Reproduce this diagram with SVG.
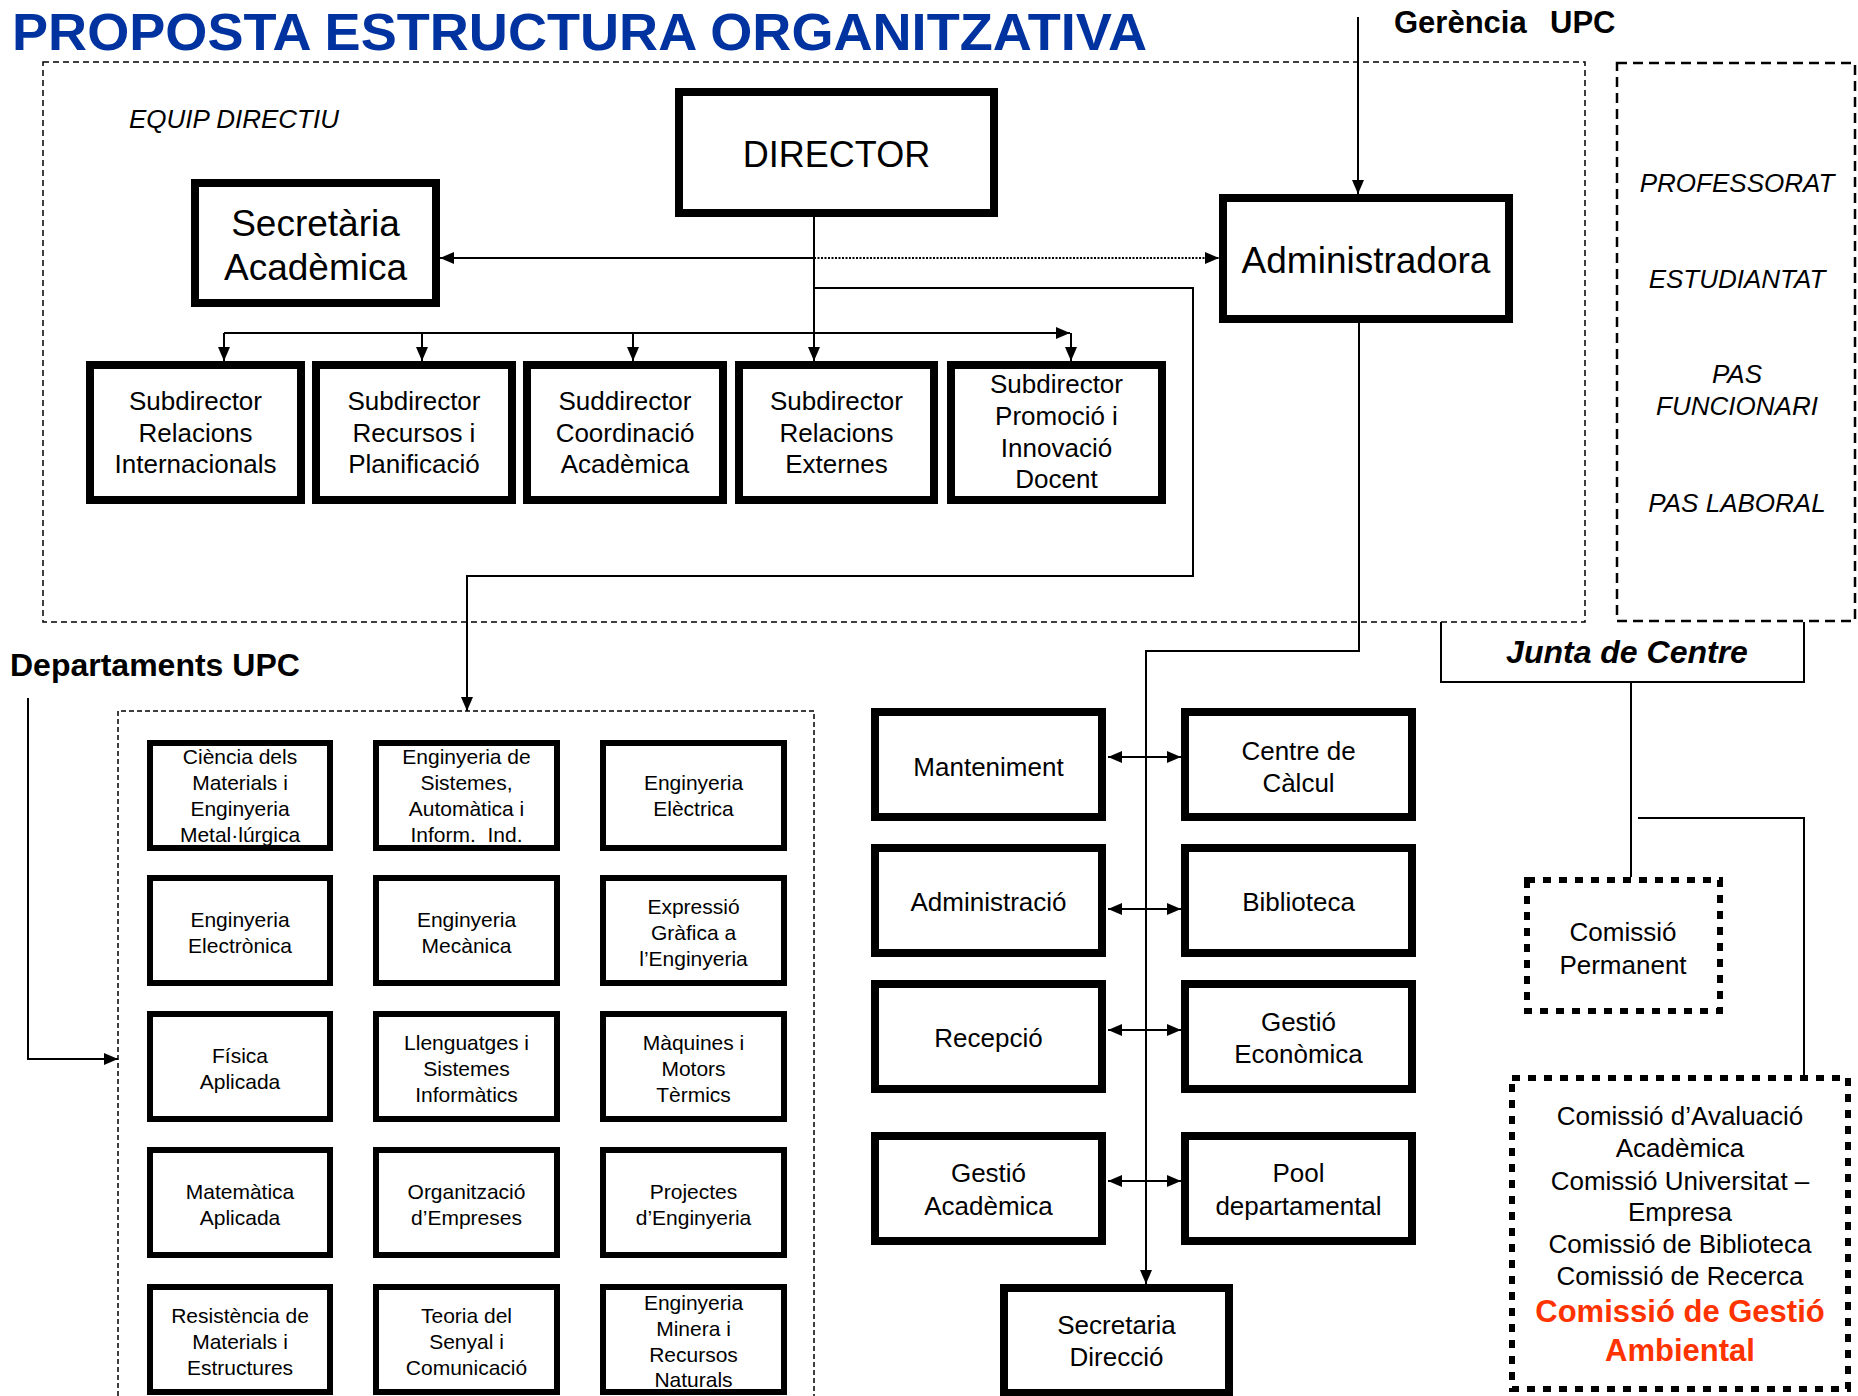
<svg xmlns="http://www.w3.org/2000/svg" width="1858" height="1396" viewBox="0 0 1858 1396">
<defs>
<style>
text{font-family:"Liberation Sans",Arial,sans-serif;fill:#000}
.c{text-anchor:middle}
.b8{fill:#fff;stroke:#000;stroke-width:8}
.b6{fill:#fff;stroke:#000;stroke-width:6}
.dot{fill:#fff;stroke:#000;stroke-width:6;stroke-dasharray:8 8}
.ln{fill:none;stroke:#000;stroke-width:2}
.f26{font-size:26px}
.f21{font-size:21px}
.it{font-style:italic}
.bd{font-weight:bold}
</style>
<marker id="ah" markerUnits="userSpaceOnUse" markerWidth="14" markerHeight="12" refX="14" refY="6" orient="auto-start-reverse">
<path d="M0,0 L14,6 L0,12 z" fill="#000"/>
</marker>
</defs>
<rect width="1858" height="1396" fill="#fff"/>

<text x="12" y="50" font-size="52" font-weight="bold" fill="#0033A0" style="fill:#0033A0" textLength="1135" lengthAdjust="spacingAndGlyphs">PROPOSTA ESTRUCTURA ORGANITZATIVA</text>
<text x="1394" y="33" font-size="31" class="bd">Gerència</text>
<text x="1550" y="33" font-size="31" class="bd">UPC</text>

<!-- containers -->
<g id="equip-directiu">
<rect x="43" y="62" width="1542" height="560" fill="none" stroke="#000" stroke-width="1.5" stroke-dasharray="6 4"/>
<text x="129" y="128" class="f26 it">EQUIP DIRECTIU</text>
</g>
<g id="col-estaments">
<rect x="1617" y="63" width="238" height="558" fill="none" stroke="#000" stroke-width="2.5" stroke-dasharray="10 6"/>
<text x="1737" y="192" class="c f26 it">PROFESSORAT</text>
<text x="1737" y="288" class="c f26 it">ESTUDIANTAT</text>
<text x="1737" y="383" class="c f26 it">PAS</text>
<text x="1737" y="415" class="c f26 it">FUNCIONARI</text>
<text x="1737" y="512" class="c f26 it">PAS LABORAL</text>
</g>
<g id="departaments">
<polyline points="118,1396 118,711 814,711 814,1396" fill="none" stroke="#000" stroke-width="1.5" stroke-dasharray="5 3"/>
<text x="10" y="676" font-size="32" class="bd">Departaments UPC</text>
</g>

<!-- connectors -->
<g id="connectors">
<line class="ln" x1="1358" y1="17" x2="1358" y2="194" marker-end="url(#ah)"/>
<line class="ln" x1="814" y1="217" x2="814" y2="361" marker-end="url(#ah)"/>
<line class="ln" x1="814" y1="258" x2="440" y2="258" marker-end="url(#ah)"/>
<line x1="814" y1="258" x2="1219" y2="258" fill="none" stroke="#000" stroke-width="2" stroke-dasharray="2 1.5" marker-end="url(#ah)"/>
<polyline class="ln" points="814,288 1193,288 1193,576 467,576 467,711" marker-end="url(#ah)"/>
<line class="ln" x1="224" y1="333" x2="1070" y2="333" marker-end="url(#ah)"/>
<line class="ln" x1="224" y1="333" x2="224" y2="361" marker-end="url(#ah)"/>
<line class="ln" x1="422" y1="333" x2="422" y2="361" marker-end="url(#ah)"/>
<line class="ln" x1="633" y1="333" x2="633" y2="361" marker-end="url(#ah)"/>
<line class="ln" x1="1071" y1="333" x2="1071" y2="361" marker-end="url(#ah)"/>
<polyline class="ln" points="1359,323 1359,651 1146,651 1146,1284" marker-end="url(#ah)"/>
<line class="ln" x1="1108" y1="757" x2="1181" y2="757" marker-start="url(#ah)" marker-end="url(#ah)"/>
<line class="ln" x1="1108" y1="909" x2="1181" y2="909" marker-start="url(#ah)" marker-end="url(#ah)"/>
<line class="ln" x1="1108" y1="1030" x2="1181" y2="1030" marker-start="url(#ah)" marker-end="url(#ah)"/>
<line class="ln" x1="1108" y1="1181" x2="1181" y2="1181" marker-start="url(#ah)" marker-end="url(#ah)"/>
<polyline class="ln" points="28,698 28,1059 118,1059" marker-end="url(#ah)"/>
<line class="ln" x1="1631" y1="682" x2="1631" y2="877"/>
<polyline class="ln" points="1638,818 1804,818 1804,1075"/>
</g>

<!-- nodes -->
<g id="director"><rect class="b8" x="679" y="92" width="315" height="121"/><text x="836.5" y="167" class="c" font-size="36">DIRECTOR</text></g>
<g id="secretaria-academica"><rect class="b8" x="195" y="183" width="241" height="120"/><text x="315.5" y="236" class="c" font-size="37">Secretària</text><text x="315.5" y="280" class="c" font-size="37">Acadèmica</text></g>
<g id="administradora"><rect class="b8" x="1223" y="198" width="286" height="121"/><text x="1366" y="273" class="c" font-size="37">Administradora</text></g>

<g id="sub-rel-int"><rect class="b8" x="90" y="365" width="211" height="135"/><text class="c f26" x="195.5" y="410">Subdirector</text><text class="c f26" x="195.5" y="442">Relacions</text><text class="c f26" x="195.5" y="473">Internacionals</text></g>
<g id="sub-recursos"><rect class="b8" x="316" y="365" width="196" height="135"/><text class="c f26" x="414" y="410">Subdirector</text><text class="c f26" x="414" y="442">Recursos i</text><text class="c f26" x="414" y="473">Planificació</text></g>
<g id="sub-coordinacio"><rect class="b8" x="527" y="365" width="196" height="135"/><text class="c f26" x="625" y="410">Suddirector</text><text class="c f26" x="625" y="442">Coordinació</text><text class="c f26" x="625" y="473">Acadèmica</text></g>
<g id="sub-rel-ext"><rect class="b8" x="739" y="365" width="195" height="135"/><text class="c f26" x="836.5" y="410">Subdirector</text><text class="c f26" x="836.5" y="442">Relacions</text><text class="c f26" x="836.5" y="473">Externes</text></g>
<g id="sub-promocio"><rect class="b8" x="951" y="365" width="211" height="135"/><text class="c f26" x="1056.5" y="393">Subdirector</text><text class="c f26" x="1056.5" y="425">Promoció i</text><text class="c f26" x="1056.5" y="457">Innovació</text><text class="c f26" x="1056.5" y="488">Docent</text></g>

<g id="junta-centre"><polyline class="ln" points="1441,622 1441,682 1804,682 1804,622"/><text x="1627" y="663" class="c bd it" font-size="32">Junta de Centre</text></g>
<g id="comissio-permanent"><rect class="dot" x="1527" y="880" width="193" height="131"/><text class="c f26" x="1623" y="941">Comissió</text><text class="c f26" x="1623" y="974">Permanent</text></g>
<g id="comissions"><rect class="dot" x="1512" y="1078" width="336" height="311"/>
<text class="c f26" x="1680" y="1125">Comissió d’Avaluació</text>
<text class="c f26" x="1680" y="1157">Acadèmica</text>
<text class="c f26" x="1680" y="1190">Comissió Universitat –</text>
<text class="c f26" x="1680" y="1221">Empresa</text>
<text class="c f26" x="1680" y="1253">Comissió de Biblioteca</text>
<text class="c f26" x="1680" y="1285">Comissió de Recerca</text>
<text class="c bd" x="1680" y="1322" font-size="31" style="fill:#FF3300">Comissió de Gestió</text>
<text class="c bd" x="1680" y="1361" font-size="31" style="fill:#FF3300">Ambiental</text>
</g>

<g id="manteniment"><rect class="b8" x="875" y="712" width="227" height="105"/><text class="c f26" x="988.5" y="776">Manteniment</text></g>
<g id="centre-calcul"><rect class="b8" x="1185" y="712" width="227" height="105"/><text class="c f26" x="1298.5" y="760">Centre de</text><text class="c f26" x="1298.5" y="792">Càlcul</text></g>
<g id="administracio"><rect class="b8" x="875" y="848" width="227" height="105"/><text class="c f26" x="988.5" y="911">Administració</text></g>
<g id="biblioteca"><rect class="b8" x="1185" y="848" width="227" height="105"/><text class="c f26" x="1298.5" y="911">Biblioteca</text></g>
<g id="recepcio"><rect class="b8" x="875" y="984" width="227" height="105"/><text class="c f26" x="988.5" y="1047">Recepció</text></g>
<g id="gestio-economica"><rect class="b8" x="1185" y="984" width="227" height="105"/><text class="c f26" x="1298.5" y="1031">Gestió</text><text class="c f26" x="1298.5" y="1063">Econòmica</text></g>
<g id="gestio-academica"><rect class="b8" x="875" y="1136" width="227" height="105"/><text class="c f26" x="988.5" y="1182">Gestió</text><text class="c f26" x="988.5" y="1215">Acadèmica</text></g>
<g id="pool"><rect class="b8" x="1185" y="1136" width="227" height="105"/><text class="c f26" x="1298.5" y="1182">Pool</text><text class="c f26" x="1298.5" y="1215">departamental</text></g>
<g id="secretaria-direccio"><rect class="b8" x="1004" y="1288" width="225" height="105"/><text class="c f26" x="1116.5" y="1334">Secretaria</text><text class="c f26" x="1116.5" y="1366">Direcció</text></g>

<!-- departaments boxes -->
<g id="d-ciencia-materials"><rect class="b6" x="150" y="743" width="180" height="105"/><text class="c f21" x="240" y="764">Ciència dels</text><text class="c f21" x="240" y="790">Materials i</text><text class="c f21" x="240" y="816">Enginyeria</text><text class="c f21" x="240" y="842">Metal·lúrgica</text></g>
<g id="d-esaii"><rect class="b6" x="376" y="743" width="181" height="105"/><text class="c f21" x="466.5" y="764">Enginyeria de</text><text class="c f21" x="466.5" y="790">Sistemes,</text><text class="c f21" x="466.5" y="816">Automàtica i</text><text class="c f21" x="466.5" y="842" style="white-space:pre">Inform.  Ind.</text></g>
<g id="d-electrica"><rect class="b6" x="603" y="743" width="181" height="105"/><text class="c f21" x="693.5" y="790">Enginyeria</text><text class="c f21" x="693.5" y="816">Elèctrica</text></g>

<g id="d-electronica"><rect class="b6" x="150" y="878" width="180" height="105"/><text class="c f21" x="240" y="927">Enginyeria</text><text class="c f21" x="240" y="953">Electrònica</text></g>
<g id="d-mecanica"><rect class="b6" x="376" y="878" width="181" height="105"/><text class="c f21" x="466.5" y="927">Enginyeria</text><text class="c f21" x="466.5" y="953">Mecànica</text></g>
<g id="d-expressio"><rect class="b6" x="603" y="878" width="181" height="105"/><text class="c f21" x="693.5" y="914">Expressió</text><text class="c f21" x="693.5" y="940">Gràfica a</text><text class="c f21" x="693.5" y="966">l’Enginyeria</text></g>

<g id="d-fisica"><rect class="b6" x="150" y="1014" width="180" height="105"/><text class="c f21" x="240" y="1063">Física</text><text class="c f21" x="240" y="1089">Aplicada</text></g>
<g id="d-lsi"><rect class="b6" x="376" y="1014" width="181" height="105"/><text class="c f21" x="466.5" y="1050">Llenguatges i</text><text class="c f21" x="466.5" y="1076">Sistemes</text><text class="c f21" x="466.5" y="1102">Informàtics</text></g>
<g id="d-maquines"><rect class="b6" x="603" y="1014" width="181" height="105"/><text class="c f21" x="693.5" y="1050">Màquines i</text><text class="c f21" x="693.5" y="1076">Motors</text><text class="c f21" x="693.5" y="1102">Tèrmics</text></g>

<g id="d-matematica"><rect class="b6" x="150" y="1150" width="180" height="105"/><text class="c f21" x="240" y="1199">Matemàtica</text><text class="c f21" x="240" y="1225">Aplicada</text></g>
<g id="d-organitzacio"><rect class="b6" x="376" y="1150" width="181" height="105"/><text class="c f21" x="466.5" y="1199">Organització</text><text class="c f21" x="466.5" y="1225">d’Empreses</text></g>
<g id="d-projectes"><rect class="b6" x="603" y="1150" width="181" height="105"/><text class="c f21" x="693.5" y="1199">Projectes</text><text class="c f21" x="693.5" y="1225">d’Enginyeria</text></g>

<g id="d-resistencia"><rect class="b6" x="150" y="1287" width="180" height="105"/><text class="c f21" x="240" y="1323">Resistència de</text><text class="c f21" x="240" y="1349">Materials i</text><text class="c f21" x="240" y="1375">Estructures</text></g>
<g id="d-teoria-senyal"><rect class="b6" x="376" y="1287" width="181" height="105"/><text class="c f21" x="466.5" y="1323">Teoria del</text><text class="c f21" x="466.5" y="1349">Senyal i</text><text class="c f21" x="466.5" y="1375">Comunicació</text></g>
<g id="d-minera"><rect class="b6" x="603" y="1287" width="181" height="105"/><text class="c f21" x="693.5" y="1310">Enginyeria</text><text class="c f21" x="693.5" y="1336">Minera i</text><text class="c f21" x="693.5" y="1362">Recursos</text><text class="c f21" x="693.5" y="1387">Naturals</text></g>
</svg>
